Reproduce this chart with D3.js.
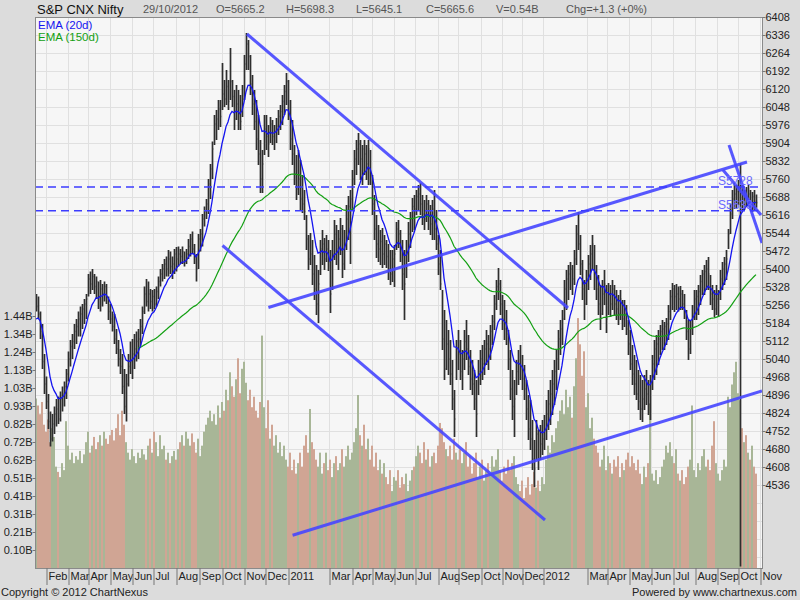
<!DOCTYPE html>
<html>
<head>
<meta charset="utf-8">
<script src="https://cdn.jsdelivr.net/npm/d3@7"></script>
<style>
  body { margin: 0; background: #dcdcdc; }
  svg { display: block; font-family: "Liberation Sans", Arial, sans-serif; }
</style>
</head>
<body>
<svg id="chart"></svg>
<script>
// one entry per 2px column of the original (two sessions), mid Jan 2010 -> 29 Oct 2012
const barHigh = [
  5300,5290,5230,5180,5060,4970,4900,4830,4820,4850, 4880,4890,4910,4930,4950,5000,5070,5116,5140,5180,
  5200,5230,5250,5260,5280,5300,5380,5390,5400,5380, 5370,5350,5356,5340,5350,5340,5290,5260,5230,5220,
  5160,5116,5080,5060,5000,4980,5060,5110,5120,5140, 5150,5160,5200,5250,5330,5360,5350,5320,5316,5320,
  5330,5370,5400,5420,5440,5450,5476,5470,5450,5480, 5488,5490,5480,5490,5470,5480,5520,5540,5550,5500,
  5460,5540,5560,5620,5650,5680,5760,5820,5910,6016, 6036,6076,6076,6224,6156,6196,6156,6284,6156,6116,
  6136,6116,6096,6136,6256,6344,6316,6256,6176,6116, 6076,6016,5916,5876,6016,6016,5976,6008,5996,5976,
  6004,6036,6056,6096,6136,6184,6156,6076,5996,5896, 5856,5876,5836,5776,5716,5616,5536,5544,5516,5456,
  5416,5396,5516,5556,5524,5536,5516,5476,5516,5596, 5576,5556,5604,5576,5556,5656,5692,5716,5796,5876,
  5916,5944,5916,5896,5916,5896,5916,5876,5776,5696, 5616,5576,5556,5564,5536,5516,5500,5476,5476,5496,
  5588,5596,5556,5516,5476,5516,5588,5628,5684,5696, 5716,5736,5744,5696,5676,5696,5676,5656,5676,5716,
  5636,5536,5476,5316,5236,5196,5156,5116,5036,4916, 5116,5156,5116,5076,5156,5196,5136,5076,5036,4996,
  4956,5036,5076,5096,5116,5156,5136,5176,5216,5296, 5356,5404,5356,5296,5276,5236,5156,5076,4996,4956,
  5036,5076,5096,5056,5016,4956,4896,4876,4796,4716, 4796,4756,4776,4796,4816,4876,4916,4956,4996,5036,
  5076,5156,5196,5236,5356,5396,5416,5428,5416,5476, 5576,5628,5536,5436,5356,5396,5456,5496,5536,5496,
  5416,5376,5336,5356,5396,5336,5344,5336,5356,5336, 5316,5296,5316,5276,5276,5256,5196,5156,5096,5056,
  5036,4996,4976,4956,4976,4996,4956,4976,5056,5116, 5136,5156,5176,5196,5188,5204,5256,5316,5344,5336,
  5340,5330,5332,5316,5300,5236,5196,5196,5256,5316, 5316,5336,5376,5396,5416,5436,5448,5376,5336,5316,
  5336,5316,5396,5428,5448,5476,5560,5660,5716,5744, 5736,5756,5824,5736,5716,5728,5736,5716,5708,5716,
  5698.3
];
const barLow = [
  5230,5200,5120,5000,4900,4840,4760,4690,4710,4740, 4770,4780,4790,4830,4850,4880,4950,5010,5040,5080,
  5100,5130,5130,5160,5180,5200,5290,5300,5316,5300, 5280,5240,5230,5250,5270,5260,5196,5180,5150,5100,
  5060,5010,4980,4900,4820,4790,4930,4980,4960,5000, 5030,5040,5090,5140,5220,5250,5230,5240,5230,5240,
  5250,5280,5330,5350,5360,5370,5370,5380,5360,5380, 5390,5410,5420,5420,5410,5420,5440,5450,5460,5420,
  5350,5400,5470,5490,5570,5600,5620,5680,5760,5896, 5916,5956,5968,6036,6048,6056,6036,6076,6048,5956,
  5996,5956,5956,6008,6076,6196,6196,6096,6016,5956, 5876,5816,5704,5704,5856,5876,5848,5904,5896,5876,
  5904,5936,5956,5976,6016,6056,5996,5876,5816,5736, 5676,5696,5636,5624,5596,5476,5396,5416,5336,5276,
  5216,5184,5376,5416,5396,5428,5392,5224,5316,5436, 5416,5396,5456,5364,5396,5476,5516,5420,5636,5736,
  5776,5816,5756,5736,5776,5756,5736,5736,5616,5516, 5444,5428,5416,5404,5416,5404,5356,5336,5348,5328,
  5476,5484,5428,5316,5196,5364,5428,5484,5548,5556, 5616,5636,5616,5576,5556,5588,5556,5536,5516,5516,
  5476,5376,5316,5076,4956,4996,4976,4936,4836,4728, 4956,4996,4956,4916,4996,5036,4976,4916,4896,4836,
  4728,4896,4936,4956,4976,5016,4996,5036,5096,5156, 5236,5276,5216,5156,5116,5096,4996,4876,4796,4728,
  4896,4936,4956,4916,4876,4796,4716,4676,4596,4528, 4636,4596,4636,4656,4676,4716,4756,4776,4816,4856,
  4916,4996,5056,5096,5196,5236,5276,5316,5296,5336, 5416,5476,5376,5276,5196,5256,5316,5356,5396,5316,
  5276,5216,5156,5216,5256,5144,5216,5208,5236,5216, 5196,5176,5196,5156,5168,5136,5056,4996,4936,4896,
  4876,4836,4796,4788,4836,4856,4816,4796,4916,4956, 4976,5016,5056,5076,5076,5096,5116,5196,5236,5228,
  5236,5230,5236,5236,5200,5116,5036,5060,5136,5196, 5196,5216,5256,5296,5296,5316,5316,5256,5236,5208,
  5216,5208,5276,5316,5336,5356,5480,5540,5600,5640, 5644,5656,4210,5636,5636,5648,5656,5636,5628,5636,
  5645.1
];
const barClose = [
  5250,5220,5150,5030,4940,4870,4790,4720,4780,4820, 4840,4800,4880,4900,4930,4980,5040,5090,5110,5150,
  5170,5200,5220,5240,5260,5280,5360,5340,5370,5330, 5350,5280,5320,5300,5330,5290,5230,5200,5170,5120,
  5080,5040,5010,4930,4850,4940,5010,5030,5060,5080, 5110,5120,5170,5230,5300,5270,5300,5270,5290,5260,
  5310,5350,5380,5400,5420,5400,5440,5410,5420,5460, 5440,5460,5450,5470,5430,5460,5490,5520,5480,5450,
  5400,5520,5540,5600,5630,5660,5740,5800,5880,5980, 6000,6040,6010,6100,6080,6130,6070,6150,6090,6000,
  6060,6020,5990,6080,6220,6300,6250,6140,6060,5990, 5920,5860,5760,5820,5960,5930,5900,5980,5930,5950,
  5970,6010,6030,6070,6110,6150,6030,5920,5860,5780, 5720,5760,5680,5660,5630,5520,5440,5460,5380,5320,
  5260,5340,5480,5500,5440,5480,5430,5300,5460,5540, 5480,5520,5560,5420,5500,5600,5650,5680,5760,5840,
  5880,5900,5840,5880,5860,5820,5880,5780,5660,5560, 5500,5480,5510,5460,5500,5450,5400,5380,5440,5460,
  5560,5540,5480,5380,5340,5460,5540,5600,5650,5640, 5690,5700,5660,5620,5600,5660,5620,5580,5640,5560,
  5500,5420,5340,5120,5000,5100,5040,4980,4880,4800, 5080,5060,4990,5040,5110,5080,5010,4960,4940,4880,
  4820,4990,5040,5020,5080,5100,5080,5150,5190,5260, 5330,5340,5260,5200,5160,5140,5040,4920,4850,4880,
  4990,5020,5000,4960,4920,4840,4760,4720,4640,4600, 4740,4640,4700,4720,4760,4820,4860,4900,4940,4990,
  5040,5120,5160,5200,5320,5360,5380,5400,5360,5440, 5540,5500,5420,5320,5260,5360,5420,5460,5500,5380,
  5320,5260,5220,5300,5340,5200,5300,5260,5320,5260, 5240,5220,5280,5200,5220,5160,5100,5020,4980,4940,
  4900,4870,4840,4880,4920,4900,4860,4940,5020,5080, 5100,5120,5150,5160,5170,5180,5230,5290,5320,5290,
  5300,5280,5300,5260,5230,5150,5080,5160,5220,5280, 5290,5310,5350,5380,5390,5400,5380,5300,5280,5240,
  5280,5300,5360,5400,5420,5440,5540,5620,5680,5700, 5710,5720,5750,5680,5700,5690,5700,5660,5690,5670,
  5665.6
];
// volume in billions
const barVolume = [
  0.97,0.93,0.88,0.95,0.82,0.78,0.85,0.72,0.80,0.75, 0.58,0.55,0.52,0.60,0.56,0.84,0.70,0.62,0.66,0.60,
  0.64,0.62,0.67,0.60,0.65,0.72,0.78,0.66,0.70,0.75, 0.68,0.72,0.76,0.70,0.78,0.74,0.71,0.76,0.79,0.73,
  0.80,0.88,0.76,0.90,0.82,0.72,0.66,0.62,0.68,0.64, 0.60,0.66,0.63,0.68,0.65,0.62,0.70,0.74,0.66,0.78,
  0.72,0.64,0.76,0.68,0.70,0.62,0.66,0.60,0.64,0.67, 0.62,0.68,0.72,0.76,0.70,0.78,0.74,0.70,0.77,0.72,
  0.66,0.74,0.64,0.70,0.78,0.82,0.86,0.90,0.84,0.88, 0.82,0.93,0.86,0.95,0.90,1.02,0.96,1.12,1.04,0.98,
  1.08,1.20,1.00,1.14,1.18,1.06,0.96,1.02,0.92,0.98, 0.90,0.86,0.95,1.33,0.92,0.80,0.96,0.74,0.82,0.70,
  0.76,0.66,0.72,0.64,0.70,0.62,0.58,0.66,0.56,0.62, 0.54,0.60,0.66,0.58,0.70,0.76,0.66,0.91,0.72,0.68,
  0.62,0.58,0.66,0.54,0.60,0.66,0.56,0.62,0.52,0.60, 0.64,0.56,0.60,0.68,0.58,0.64,0.70,0.62,0.66,0.72,
  0.80,0.99,0.76,0.70,0.82,0.68,0.74,0.62,0.70,0.58, 0.66,0.56,0.62,0.54,0.60,0.52,0.48,0.56,0.44,0.52,
  0.50,0.56,0.46,0.52,0.48,0.54,0.44,0.50,0.56,0.58, 0.64,0.70,0.66,0.60,0.72,0.62,0.68,0.58,0.64,0.66,
  0.60,0.70,0.83,0.80,0.72,0.68,0.64,0.70,0.62,0.74, 0.66,0.62,0.68,0.60,0.66,0.72,0.58,0.64,0.54,0.60,
  0.66,0.52,0.58,0.62,0.50,0.56,0.60,0.54,0.64,0.58, 0.62,0.68,0.56,0.50,0.58,0.54,0.62,0.56,0.60,0.64,
  0.52,0.48,0.44,0.50,0.40,0.46,0.52,0.42,0.48,0.55, 0.46,0.50,0.44,0.52,0.48,0.62,0.70,0.66,0.76,0.72,
  0.80,0.84,0.90,0.96,0.88,1.02,0.92,0.98,0.86,1.04, 1.20,1.43,1.28,1.10,1.24,0.92,1.00,0.80,0.86,0.74,
  0.70,0.66,0.58,0.62,0.70,0.56,0.64,0.60,0.54,0.62, 0.58,0.64,0.52,0.60,0.56,0.62,0.66,0.58,0.64,0.60,
  0.56,0.62,0.54,0.48,0.58,0.52,0.60,0.94,0.54,0.50, 0.56,0.48,0.52,0.58,0.62,0.70,0.66,0.72,0.64,0.60,
  0.68,0.54,0.50,0.56,0.48,0.52,0.58,0.62,0.93,0.56, 0.52,0.60,0.56,0.64,0.68,0.58,0.62,0.56,0.70,0.84,
  0.60,0.54,0.50,0.56,0.62,0.58,0.98,0.92,1.05,1.12, 1.18,1.00,0.96,0.80,0.72,0.76,0.66,0.62,0.70,0.58,
  0.54
];

// where each average line starts on the chart: [bar index]
const ema20Start = [0, 5200];
const ema150Start = [51, 5084];

const monthLabels = ['Feb','Mar','Apr','May','Jun','Jul','Aug','Sep','Oct','Nov','Dec','2011',
  'Mar','Apr','May','Jun','Jul','Aug','Sep','Oct','Nov','Dec','2012',
  'Mar','Apr','May','Jun','Jul','Aug','Sep','Oct','Nov'];
// bar index where each month starts
const monthIdx = [5,16,26,37,48,58.5,70,81.5,93,104,114.5,126,
  146.5,158,168,179,189.5,201,211,222.5,233,243,253.5,
  275.5,285.5,296.5,307.5,318.5,329.5,340.5,351,362];

const priceTickLabels = [6408,6336,6264,6192,6120,6048,5976,5904,5832,5760,5688,5616,5544,
  5472,5400,5328,5256,5184,5112,5040,4968,4896,4824,4752,4680,4608,4536];
const volTickLabels = ['0.10B','0.21B','0.31B','0.41B','0.51B','0.62B','0.72B','0.82B',
  '0.93B','1.03B','1.13B','1.24B','1.34B','1.44B'];

// drawn trendlines: [startIdx, startPrice, endIdx, endPrice]
const trendLines = [
  [105.5, 6340, 266, 5244],
  [93.25, 5494, 254.5, 4396],
  [116.2, 5246, 355.5, 5828],
  [128.3, 4335, 363, 4912],
  [346.5, 5896, 363, 5504],
  [343.5, 5796, 362.5, 5616]
];
const supportLevels = [5728, 5633];

const headerItems = ['29/10/2012', 'O=5665.2', 'H=5698.3', 'L=5645.1', 'C=5665.6', 'V=0.54B', 'Chg=+1.3 (+0%)'];

class NiftyChart {
    constructor(_config, _data) {
        this.config = {
            parentElement: _config.parentElement,
            containerWidth: _config.containerWidth || 800,
            containerHeight: _config.containerHeight || 600,
            margin: { top: 17, bottom: 32, right: 38, left: 35 }
        }
        this.data = _data;
        this.initVis();
    }

    initVis() {
        let vis = this;
        vis.width = vis.config.containerWidth - vis.config.margin.left - vis.config.margin.right;
        vis.height = vis.config.containerHeight - vis.config.margin.top - vis.config.margin.bottom;

        vis.svg = d3.select(vis.config.parentElement)
            .attr('width', vis.config.containerWidth)
            .attr('height', vis.config.containerHeight);

        vis.chart = vis.svg.append('g')
            .attr('transform', `translate(${vis.config.margin.left},${vis.config.margin.top})`);

        vis.x = d3.scaleLinear()
            .domain([-0.5, 363])
            .range([0, vis.width]);

        vis.y = d3.scaleLinear()
            .domain([4204, 6408])
            .range([vis.height, 0]);

        // volume grid shares the price grid, 18px per step
        vis.volStep = 0.103;
        vis.yVol = d3.scaleLinear()
            .domain([0, vis.volStep * 14])
            .range([vis.height, vis.height - 252]);

        vis.svg.append('defs').append('clipPath').attr('id', 'plotclip')
            .append('rect').attr('width', vis.width).attr('height', vis.height);

        vis.updateVis();
    }

    // EMA picked up from a starting point
    ema(values, n, start) {
        const k = 2 / (n + 1);
        let out = [[start[0], start[1]]];
        for (let i = start[0] + 1; i < values.length; i++) {
            out.push([i, values[i] * k + out[out.length - 1][1] * (1 - k)]);
        }
        return out;
    }

    updateVis() {
        let vis = this;
        const d = vis.data;

        vis.chart.append('rect')
            .attr('width', vis.width).attr('height', vis.height)
            .attr('fill', '#f6f6f6');

        // grid
        vis.chart.append('g').selectAll('line')
            .data(d3.range(4248, 6409, 72))
            .join('line')
            .attr('x1', 0).attr('x2', vis.width)
            .attr('y1', p => Math.round(vis.y(p)) + 0.5).attr('y2', p => Math.round(vis.y(p)) + 0.5)
            .attr('stroke', '#e0e0e0');
        vis.chart.append('g').selectAll('line')
            .data(monthIdx)
            .join('line')
            .attr('x1', m => Math.round(vis.x(m)) + 0.5).attr('x2', m => Math.round(vis.x(m)) + 0.5)
            .attr('y1', 0).attr('y2', vis.height)
            .attr('stroke', '#e0e0e0');

        const plot = vis.chart.append('g').attr('clip-path', 'url(#plotclip)');

        // volume
        plot.append('g').selectAll('rect')
            .data(d.volume)
            .join('rect')
            .attr('x', (v, i) => vis.x(i) - 1)
            .attr('width', 2)
            .attr('y', v => vis.yVol(v))
            .attr('height', v => vis.height - vis.yVol(v))
            .attr('fill', (v, i) => (i > 0 && d.close[i] < d.close[i - 1]) ? '#d0a594' : '#a8b697');

        // price bars
        plot.append('g').selectAll('path')
            .data(d.close)
            .join('path')
            .attr('d', (c, i) => {
                const xx = vis.x(i) + 0.5;
                return `M${xx},${vis.y(d.high[i])}V${vis.y(d.low[i])}M${xx},${vis.y(c)}h1`;
            })
            .attr('stroke', '#2e2e2e')
            .attr('stroke-width', 1.7)
            .attr('fill', 'none');

        // moving averages (each bar holds two sessions)
        const ema20 = vis.ema(d.close, 10, ema20Start);
        const ema150 = vis.ema(d.close, 75, ema150Start);
        const line = d3.line().x(v => vis.x(v[0])).y(v => vis.y(v[1]));
        plot.append('path')
            .attr('d', line(ema150))
            .attr('fill', 'none').attr('stroke', '#13a013').attr('stroke-width', 1.2);
        plot.append('path')
            .attr('d', line(ema20))
            .attr('fill', 'none').attr('stroke', '#1414f0').attr('stroke-width', 1.3);

        // trendlines
        plot.append('g').selectAll('line')
            .data(trendLines)
            .join('line')
            .attr('x1', t => vis.x(t[0])).attr('y1', t => vis.y(t[1]))
            .attr('x2', t => vis.x(t[2])).attr('y2', t => vis.y(t[3]))
            .attr('stroke', '#4646ff').attr('stroke-opacity', 0.9)
            .attr('stroke-width', 3);

        plot.append('g').selectAll('line')
            .data(supportLevels)
            .join('line')
            .attr('x1', 0).attr('x2', vis.width)
            .attr('y1', s => vis.y(s)).attr('y2', s => vis.y(s))
            .attr('stroke', '#3c3cff').attr('stroke-width', 1.6)
            .attr('stroke-dasharray', '8,5');
        plot.append('g').selectAll('text')
            .data(supportLevels)
            .join('text')
            .attr('x', vis.x(341))
            .attr('y', s => vis.y(s) - 2)
            .attr('fill', '#6a6aff')
            .style('font-size', '12px')
            .text(s => 'S' + s);

        vis.chart.append('rect')
            .attr('x', 0.5).attr('y', 0.5)
            .attr('width', vis.width).attr('height', vis.height)
            .attr('fill', 'none').attr('stroke', '#8a8a8a');

        // axes
        const right = vis.chart.append('g')
            .attr('transform', `translate(${vis.width + 0.5},0)`)
            .call(d3.axisRight(vis.y).tickValues(priceTickLabels).tickSize(3).tickPadding(0)
                .tickFormat(d3.format('d')));
        const left = vis.chart.append('g')
            .attr('transform', 'translate(0.5,0)')
            .call(d3.axisLeft(vis.yVol).tickValues(volTickLabels.map((l, i) => (i + 1) * vis.volStep))
                .tickSize(3).tickPadding(0).tickFormat((v, i) => volTickLabels[i]));
        const bottom = vis.chart.append('g')
            .attr('transform', `translate(0,${vis.height})`)
            .call(d3.axisBottom(vis.x).tickValues(monthIdx).tickSize(17)
                .tickFormat((v, i) => monthLabels[i]));
        bottom.selectAll('.tick line').attr('transform', 'translate(0.5,0)');
        bottom.selectAll('text').attr('text-anchor', 'start').attr('x', 2).attr('y', 4);

        [right, left, bottom].forEach(a => {
            a.select('.domain').remove();
            a.selectAll('.tick line').attr('stroke', '#777');
            a.selectAll('text').attr('fill', '#222').style('font-size', '11px')
                .style('font-family', '"Liberation Sans", Arial, sans-serif');
        });

        // header + legend + footer
        vis.svg.append('text').attr('x', 37).attr('y', 14)
            .style('font-size', '13px').attr('fill', '#111').text('S&P CNX Nifty');
        vis.svg.selectAll('.hdr')
            .data(headerItems)
            .join('text')
            .attr('class', 'hdr')
            .attr('x', (h, i) => i === 0 ? 143 : 216 + (i - 1) * 70)
            .attr('y', 13)
            .style('font-size', '11px').attr('fill', '#555')
            .text(h => h);

        vis.svg.append('text').attr('x', 38).attr('y', 28.5)
            .style('font-size', '11.5px').attr('fill', '#1414f0').text('EMA (20d)');
        vis.svg.append('text').attr('x', 38).attr('y', 40.5)
            .style('font-size', '11.5px').attr('fill', '#13a013').text('EMA (150d)');

        vis.svg.append('text').attr('x', 1).attr('y', 596)
            .style('font-size', '11px').attr('fill', '#222').text('Copyright \u00a9 2012 ChartNexus');
        vis.svg.append('text').attr('x', 797).attr('y', 596).attr('text-anchor', 'end')
            .style('font-size', '11px').attr('fill', '#222').text('Powered by www.chartnexus.com');
    }
}

const chart = new NiftyChart({ parentElement: '#chart' },
    { high: barHigh, low: barLow, close: barClose, volume: barVolume });
</script>
</body>
</html>
